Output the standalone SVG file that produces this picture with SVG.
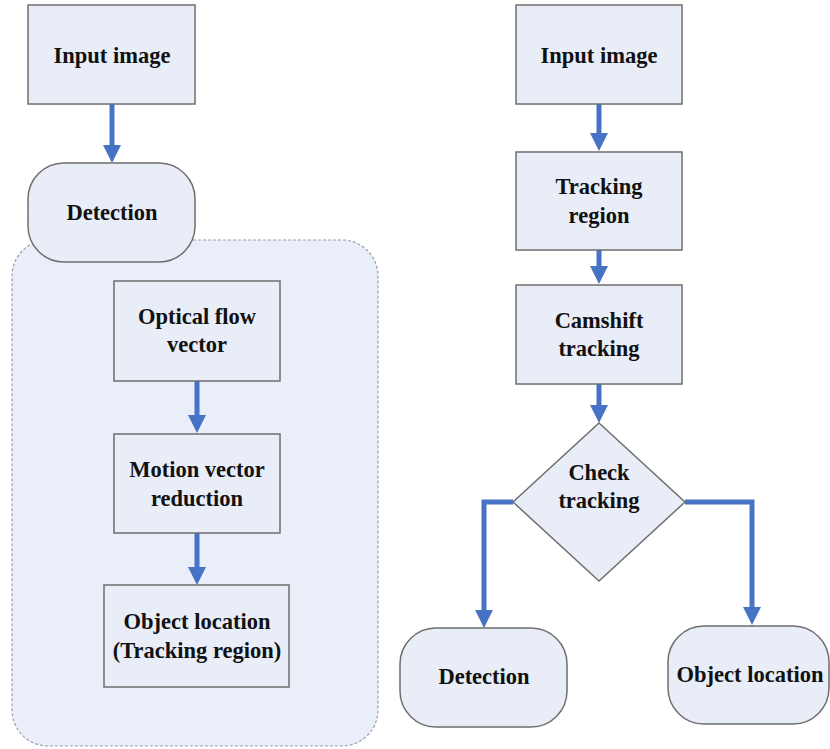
<svg xmlns="http://www.w3.org/2000/svg" width="830" height="749" viewBox="0 0 830 749">
<style>
.box{fill:#e8edf7;stroke:#6e6e6e;stroke-width:1.5}
.cont{fill:#e9eef8;stroke:#9aa0aa;stroke-width:1.2;stroke-dasharray:3 2}
.t{font-family:"Liberation Serif","Times New Roman",serif;font-weight:bold;font-size:22.5px;fill:#111;text-anchor:middle}
.c{fill:none;stroke:#4673c3;stroke-width:5}
</style>
<defs>
<marker id="ah" viewBox="0 0 18 18" refX="1" refY="9" markerWidth="18" markerHeight="18" markerUnits="userSpaceOnUse" orient="auto">
<path d="M0,0 L18,9 L0,18 z" fill="#4673c3"/>
</marker>
</defs>
<rect width="830" height="749" fill="#fff"/>
<g id="container"><rect class="cont" x="12" y="240" width="366" height="506" rx="36"/></g>
<g id="connectors">
<path class="c" d="M112,104 V146" marker-end="url(#ah)"/>
<path class="c" d="M197,381 V416" marker-end="url(#ah)"/>
<path class="c" d="M197,533 V568" marker-end="url(#ah)"/>
<path class="c" d="M599,104 V134" marker-end="url(#ah)"/>
<path class="c" d="M599,250 V267" marker-end="url(#ah)"/>
<path class="c" d="M599,384 V406" marker-end="url(#ah)"/>
<path class="c" d="M513,502 H484 V611" marker-end="url(#ah)"/>
<path class="c" d="M685,502 H752 V608" marker-end="url(#ah)"/>
</g>
<g id="input-left"><rect class="box" x="28" y="5" width="167" height="99"/><text class="t" x="112" y="63">Input image</text></g>
<g id="detection-left"><rect class="box" x="28" y="163" width="167" height="99" rx="36"/><text class="t" x="112" y="220">Detection</text></g>
<g id="optical-flow"><rect class="box" x="114" y="281" width="166" height="100"/><text class="t" x="197" y="324">Optical flow</text><text class="t" x="197" y="352">vector</text></g>
<g id="motion-vector"><rect class="box" x="114" y="434" width="166" height="99"/><text class="t" x="197" y="477">Motion vector</text><text class="t" x="197" y="506">reduction</text></g>
<g id="object-location-left"><rect class="box" x="104" y="585" width="185" height="102"/><text class="t" x="197" y="629">Object location</text><text class="t" x="197" y="658">(Tracking region)</text></g>
<g id="input-right"><rect class="box" x="516" y="5" width="166" height="99"/><text class="t" x="599" y="63">Input image</text></g>
<g id="tracking-region"><rect class="box" x="516" y="152" width="166" height="98"/><text class="t" x="599" y="194">Tracking</text><text class="t" x="599" y="223">region</text></g>
<g id="camshift"><rect class="box" x="516" y="285" width="166" height="99"/><text class="t" x="599" y="328">Camshift</text><text class="t" x="599" y="356">tracking</text></g>
<g id="check-tracking"><polygon class="box" points="599,423 685,502 599,581 513,502"/><text class="t" x="599" y="480">Check</text><text class="t" x="599" y="508">tracking</text></g>
<g id="detection-right"><rect class="box" x="400" y="628" width="167" height="99" rx="36"/><text class="t" x="484" y="684">Detection</text></g>
<g id="object-location-right"><rect class="box" x="668" y="626" width="161" height="98" rx="36"/><text class="t" x="750" y="682">Object location</text></g>
</svg>
